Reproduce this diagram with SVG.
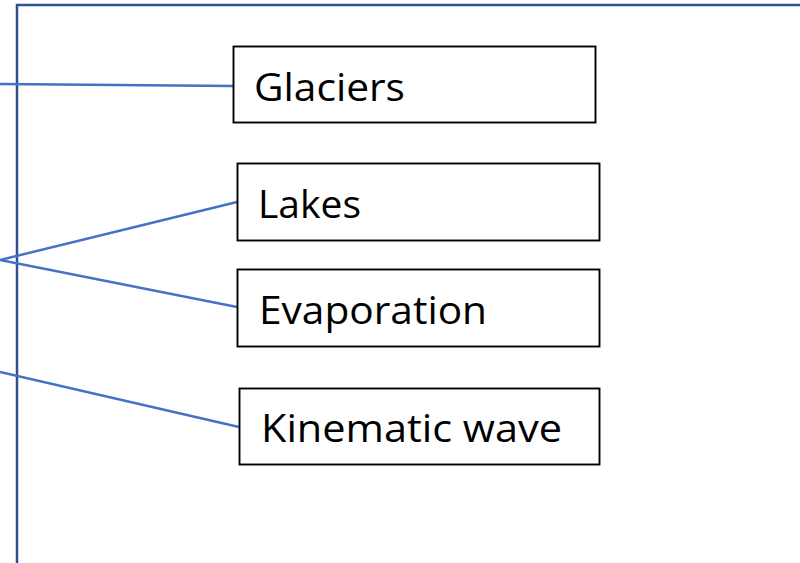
<svg xmlns="http://www.w3.org/2000/svg" width="800" height="563" viewBox="0 0 800 563">
  <style>
    .frame { fill: none; stroke: #2F528F; stroke-width: 2.5; }
    .link { fill: none; stroke: #4472C4; stroke-width: 2.5; }
    .box { fill: #FFFFFF; stroke: #000000; stroke-width: 1.9; }
    .label { font-family: "Open Sans", "Noto Sans", "Liberation Sans", sans-serif; font-size: 39px; fill: #000000; }
  </style>
  <rect width="800" height="563" fill="#FFFFFF"/>

  <!-- outer frame, partly outside the canvas -->
  <path class="frame" d="M17,563 V5 H800"/>

  <g id="connectors">
    <line class="link" x1="0" y1="84" x2="233" y2="86"/>
    <polyline class="link" points="237,202 0,260 237,307"/>
    <line class="link" x1="0" y1="372" x2="239" y2="427"/>
  </g>

  <g id="glaciers">
    <rect class="box" x="233.5" y="46.5" width="362" height="76"/>
    <text class="label" x="254" y="101" textLength="151" lengthAdjust="spacingAndGlyphs">Glaciers</text>
  </g>

  <g id="lakes">
    <rect class="box" x="237.5" y="163.5" width="362" height="77"/>
    <text class="label" x="258" y="218" textLength="103" lengthAdjust="spacingAndGlyphs">Lakes</text>
  </g>

  <g id="evaporation">
    <rect class="box" x="237.5" y="269.5" width="362" height="77"/>
    <text class="label" x="259" y="324" textLength="228" lengthAdjust="spacingAndGlyphs">Evaporation</text>
  </g>

  <g id="kinematic-wave">
    <rect class="box" x="239.5" y="388.5" width="360" height="76"/>
    <text class="label" x="261" y="442" textLength="301" lengthAdjust="spacingAndGlyphs">Kinematic wave</text>
  </g>
</svg>
